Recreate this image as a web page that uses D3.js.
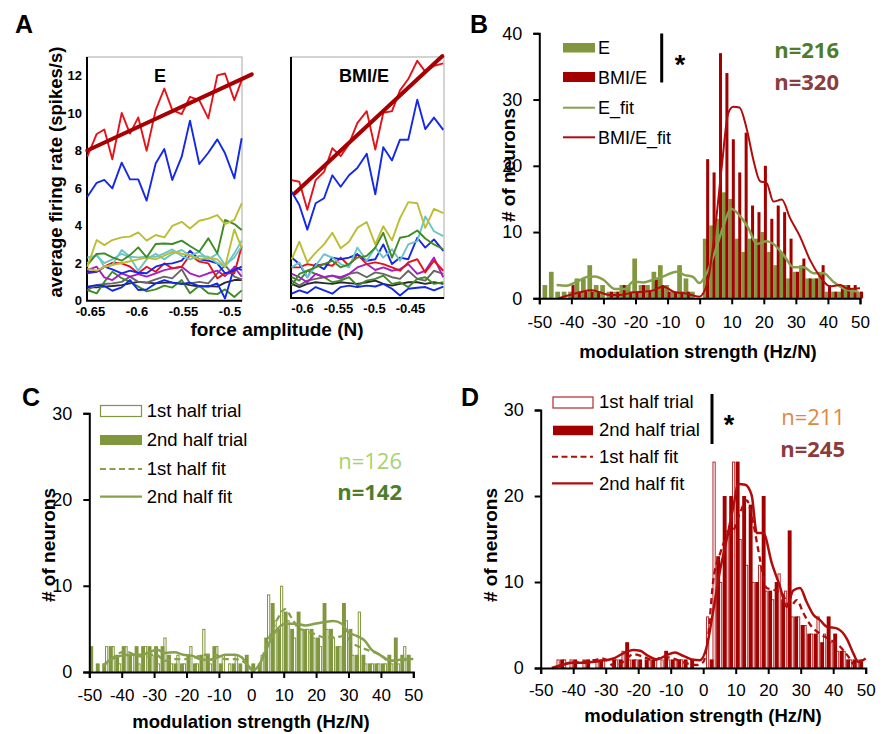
<!DOCTYPE html>
<html><head><meta charset="utf-8">
<script src="https://cdn.jsdelivr.net/npm/d3@7"></script>
<style>body{margin:0;background:#fff}svg{display:block}</style>
</head><body>
<script>
// ---------------- DATA ----------------
// Panel A : force amplitude (N) sample points
const forceE   = [-0.6529,-0.6428,-0.6346,-0.6260,-0.6159,-0.6070,-0.5981,-0.5891,-0.5794,-0.5701,-0.5615,-0.5514,-0.5425,-0.5325,-0.5228,-0.5131,-0.5048,-0.4948,-0.4869];
const forceBMI = [-0.6143,-0.6037,-0.5926,-0.5810,-0.5694,-0.5579,-0.5463,-0.5347,-0.5232,-0.5101,-0.4982,-0.4871,-0.4750,-0.4639,-0.4524,-0.4399,-0.4288,-0.4167,-0.4038];
// Panel A, E : firing rates (spikes/s)
const E_black  = [0.71,0.71,0.75,0.78,0.83,0.92,1.0,0.96,0.92,0.96,0.96,0.92,0.83,0.75,0.78,0.75,0.96,1.1,1.1];
const E_gray   = [0.57,0.83,0.89,0.92,1.0,1.28,1.0,0.96,1.14,1.28,1.19,1.67,0.92,1.0,0.92,1.46,1.9,1.28,1.14];
const E_green2 = [0.57,0.39,1.0,1.54,1.2,1.0,0.75,0.5,0.6,0.8,0.7,1.1,0.4,0.8,0.4,0.35,0.6,0.2,0.55];
const E_blue3  = [0.75,0.83,0.78,0.53,0.71,1.1,0.57,0.6,0.92,1.1,0.96,0.89,0.96,0.78,0.75,0.92,0.12,1.81,1.63];
const E_purple = [1.63,1.81,1.24,1.1,1.46,1.28,1.42,1.28,1.46,1.63,1.72,1.81,1.46,1.28,1.46,1.6,1.31,1.78,1.28];
const E_red2   = [1.46,1.54,1.81,2.02,1.99,1.81,1.46,1.81,1.54,1.99,1.72,1.81,2.43,2.08,1.99,1.19,1.46,1.46,2.88];
const E_blue2  = [1.54,1.54,1.81,1.67,1.46,1.6,1.49,1.46,1.81,1.95,1.99,2.13,2.66,2.2,2.13,1.99,1.46,1.63,1.81];
const E_cyan2  = [2.3,2.4,2.0,2.2,2.5,2.3,1.6,2.2,2.5,2.2,2.5,2.7,2.4,2.6,2.2,2.5,1.9,2.3,2.9];
const E_cyan1  = [2.0,2.49,1.81,1.9,2.7,2.34,2.31,2.34,2.34,2.52,2.73,2.38,2.2,2.38,2.34,2.0,1.81,2.52,3.2];
const E_olive2 = [1.7,1.6,1.8,1.9,2.0,2.1,2.2,2.3,2.2,2.4,2.6,2.5,2.4,2.2,2.3,2.2,1.8,3.8,2.8];
const E_green1 = [1.9,2.49,2.52,2.31,2.13,2.43,2.84,2.31,3.02,3.05,3.02,3.2,2.91,2.61,3.32,2.52,4.3,4.08,3.76];
const E_olive1 = [1.81,3.23,2.96,3.23,3.37,3.41,3.64,3.2,3.5,3.37,3.98,4.2,3.85,4.26,4.37,4.56,4.08,4.3,5.18];
const E_blue   = [5.54,6.28,6.43,5.98,7.35,6.46,6.46,5.33,7.31,8.08,6.43,7.67,9.59,7.28,7.88,8.59,7.85,6.52,8.65];
const E_red    = [7.67,8.88,9.12,7.53,10.0,8.9,9.76,7.99,10.15,11.3,10.15,9.94,10.86,10.68,9.71,12.0,12.1,10.68,11.75];
const E_fitX   = [-0.653,-0.476];
const E_fitY   = [8.0,12.05];
// Panel A, BMI/E
const M_black  = [0.76,0.59,0.76,0.85,0.80,0.76,0.85,0.80,0.76,0.85,0.94,0.76,0.67,0.76,0.85,0.85,0.76,0.85,0.76];
const M_gray   = [0.94,0.67,0.94,1.03,1.12,1.21,1.03,1.30,1.38,1.12,1.38,1.30,1.12,1.03,1.47,1.03,0.94,1.47,1.30];
const M_green2 = [1.12,0.94,1.47,1.30,1.12,0.85,0.94,1.12,0.67,0.94,1.03,1.21,0.76,0.85,0.59,1.03,1.12,0.76,0.85];
const M_blue3  = [0.23,0.41,0.27,0.59,0.41,0.23,0.59,0.67,0.59,0.67,0.62,0.76,0.50,0.14,0.50,0.55,0.59,0.41,0.62];
const M_purple = [1.30,1.12,0.85,1.30,1.12,1.21,1.12,1.30,1.65,1.83,1.51,1.65,1.47,1.56,1.83,1.30,1.47,2.18,1.12];
const M_red2   = [1.65,1.65,1.83,1.74,1.83,1.74,2.18,1.74,2.36,1.83,1.92,1.83,1.65,1.47,1.92,2.09,1.38,2.01,1.47];
const M_blue2  = [2.18,1.83,1.12,1.83,1.56,2.18,2.09,2.18,2.36,2.01,2.09,2.89,1.83,2.18,2.09,3.25,2.72,3.16,2.54];
const M_cyan   = [1.65,1.92,1.12,1.74,2.36,2.18,1.83,1.65,2.72,2.01,2.72,2.18,2.63,2.01,2.89,3.07,4.40,3.60,3.34];
const M_green  = [0.67,1.30,1.47,1.65,1.83,2.01,1.65,1.83,2.18,2.27,2.72,3.52,2.18,3.25,3.34,3.64,3.21,2.89,2.63];
const M_olive  = [2.09,3.04,1.92,2.45,2.89,3.52,2.68,3.04,3.78,4.1,2.89,3.87,3.11,4.31,5.17,5.11,3.78,4.81,4.58];
const M_blue   = [5.73,5.02,3.69,5.11,5.38,6.62,6.0,6.62,7.01,7.78,5.59,8.13,7.42,8.54,8.54,10.7,9.11,9.73,9.07];
const M_red    = [6.36,6.27,4.76,6.36,6.8,8.08,7.65,8.31,9.43,10.08,8.01,9.99,10.08,11.2,11.81,12.8,12.21,12.52,12.66];
const M_fitX   = [-0.61,-0.405];
const M_fitY   = [5.65,13.05];
const rateTicks = [0,2,4,6,8,10,12];
const forceTicksE = [-0.65,-0.6,-0.55,-0.5];
const forceLabelsE = ["-0.65","-0.6","-0.55","-0.5"];
const forceTicksM = [-0.6,-0.55,-0.5,-0.45];
const forceLabelsM = ["-0.6","-0.55","-0.5","-0.45"];

// Panel B : histogram categories (Hz/N) and counts
const binsB = [-48,-46,-44,-42,-40,-38,-36,-34,-32,-30,-28,-26,-24,-22,-20,-18,-16,-14,-12,-10,-8,-6,-4,-2,0,2,4,6,8,10,12,14,16,18,20,22,24,26,28,30,32,34,36,38,40,42,44,46,48,50];
const countE   = [2,4,1,1,1,3,3,5,2,2,1,1,2,2,6,2,2,4,5,2,1,5,3,1,0, 9,11,12,16,15,9,7,9,9,10,7,5,7,3,4,5,3,3,4,1,1,1,2,1,1];
const countBMI = [0,0,0,0,2,1,1,1,1,0,1,1,2,1,1,2,1,3,2,1,1,1,1,0,0, 21,19,37,34,24,19,25,14,13,20,12,14,13,9,4,6,3,3,5,2,1,2,2,2,1];
const fitE_x = [-44.6,-41.5,-38.3,-35.2,-32.6,-30.0,-26.4,-23.3,-20.7,-17.6,-14.5,-11.3,-7.2,-4.6,-2.0,-0.1,2.2,5.3,7.4,9.8,12.6,15.2,17.8,20.9,23.0,26.1,29.2,32.4,35.5,38.6,41.7,44.8,49.5];
const fitE_y = [2.0,1.9,2.5,3.2,3.3,2.8,1.4,1.4,2.5,2.4,2.8,3.3,4.0,3.5,3.2,2.3,3.8,7.8,10.9,13.5,12.4,10.6,8.2,8.6,8.2,6.6,4.7,4.7,3.8,3.8,2.5,1.5,1.0];
const fitBMI_x = [-44.0,-40.4,-37.3,-33.7,-31.1,-28.0,-24.8,-20.7,-17.6,-14.4,-11.3,-8.2,-4.0,-0.1,2.4,4.8,6.9,8.9,10.5,12.4,14.7,16.7,18.8,20.9,23.0,25.6,28.2,31.3,34.4,37.5,40.6,43.8,46.4,50.0];
const fitBMI_y = [0,0.5,0.9,1.2,0.9,0.5,0.5,0.9,1.0,1.2,1.8,1.0,0.7,0.25,2.3,10.4,19.9,27.9,28.9,28.8,25.5,21.0,17.7,17.4,14.6,14.9,12.1,9.3,5.8,3.3,1.8,2.0,1.4,1.5];
const modTicks = [-50,-40,-30,-20,-10,0,10,20,30,40,50];
const countTicksB = [0,10,20,30,40];
const countTicksCD = [0,10,20,30];

// Panels C and D : categories and counts (1st / 2nd half of trials)
const binsCD = [-50,-48,-46,-44,-42,-40,-38,-36,-34,-32,-30,-28,-26,-24,-22,-20,-18,-16,-14,-12,-10,-8,-6,-4,-2,0,2,4,6,8,10,12,14,16,18,20,22,24,26,28,30,32,34,36,38,40,42,44,46,48];
const C_first  = [0,0,0,3,3,1,3,2,1,3,2,1,4,1,2,1,3,1,5,1,3,2,1,2,0, 0,0,2,9,6,10,6,4,5,5,4,3,5,4,3,6,2,7,1,1,1,1,1,1,3];
const C_second = [3,1,1,3,2,3,2,3,3,3,3,3,2,1,1,2,1,2,2,3,1,0,1,1,2, 1,1,4,8,5,7,5,7,5,5,4,8,5,3,8,5,2,2,1,1,1,2,4,2,2];
const C_fit1_x = [-45.7,-42.6,-39.0,-35.9,-32.8,-29.7,-26.6,-23.6,-20.5,-17.4,-14.3,-11.2,-8.1,-5.0,-2.0,0.1,2.2,4.2,6.3,8.3,10.4,12.4,14.5,16.6,19.6,22.7,25.8,28.9,31.0,34.1,37.1,40.2,42.3,45.4,48.5];
const C_fit1_y = [0.7,1.7,2.4,2.0,1.7,2.1,1.3,1.5,1.5,1.7,2.0,2.0,1.5,1.5,1.1,0.3,0.5,2.6,4.7,6.3,7.3,6.3,5.1,4.8,4.4,4.0,4.0,4.2,3.4,2.8,2.4,1.9,1.3,1.3,1.5];
const C_fit2_x = [-45.7,-43.1,-40.0,-36.9,-33.8,-30.8,-29.2,-26.6,-23.6,-21.0,-18.4,-15.8,-13.3,-10.2,-8.1,-5.0,-3.0,-0.9,0.6,2.2,4.2,6.3,8.3,10.4,13.5,16.6,19.6,22.7,25.3,27.9,29.9,32.5,35.1,37.1,39.2,41.8,44.3,46.9,50.0];
const C_fit2_y = [0.8,1.5,1.9,2.0,2.0,2.4,2.6,2.2,2.3,2.0,1.9,1.5,1.4,1.7,2.0,2.0,1.7,0.7,0.2,0.7,2.2,4.0,5.1,5.6,5.6,5.4,5.6,5.8,5.9,5.6,4.6,4.2,3.6,2.6,2.1,1.5,1.3,1.5,1.5];
const D_first  = [0,0,0,1,1,1,0,1,0,1,1,0,1,2,1,1,0,1,1,1,1,1,1,0,0, 0,6,24,10,16,24,15,12,10,12,9,8,11,9,6,6,5,4,6,4,3,2,2,1,1];
const D_second = [0,0,0,1,0,1,0,1,0,1,0,1,1,3,1,1,1,1,0,2,1,1,1,1,0, 0,1,13,20,20,24,20,19,10,20,9,10,8,16,6,5,4,4,3,6,4,2,1,1,1];
const D_fit1_x = [-46.1,-42.0,-37.9,-33.8,-30.7,-27.1,-24.1,-21.5,-18.4,-15.3,-12.3,-9.2,-5.6,-2.0,0.05,1.6,3.1,5.2,7.2,9.3,11.3,13.4,15.4,17.5,19.5,21.6,24.2,26.7,28.8,30.8,33.4,35.9,39.0,42.1,44.7,46.7,48.8];
const D_fit1_y = [0,0.5,0.7,0.9,1.1,0.15,0.9,1.6,1.3,0.9,1.3,1.1,0.6,0.35,0.7,4.0,10.2,13.3,15.3,16.0,18.0,19.5,16.8,12.6,9.3,9.1,8.7,7.1,7.9,6.4,4.8,4.0,3.3,2.5,1.3,0.35,0.9];
const D_fit2_x = [-46.6,-43.5,-40.5,-37.4,-34.3,-31.2,-27.6,-24.6,-21.5,-19.4,-16.9,-14.3,-11.2,-8.7,-6.1,-3.5,-1.0,1.1,3.1,5.2,7.2,9.3,10.8,12.9,14.9,16.5,18.5,21.1,23.6,25.7,27.7,29.8,31.8,33.9,35.9,38.0,41.1,44.2,46.2,47.7,50.0];
const D_fit2_y = [0,0.35,0.6,0.6,0.7,0.85,1.1,1.7,2.1,2.0,1.4,1.0,1.5,1.8,1.4,1.0,0.9,2.5,6.7,11.4,14.9,18.8,21.4,21.3,20.1,15.7,15.7,12.2,9.5,7.1,9.0,9.3,7.7,6.2,5.6,4.8,4.6,3.4,1.7,0.7,1.1];

// ---------------- STYLES ----------------
const FONT = '"Liberation Sans", Arial, sans-serif';
const FONT2 = '"Open Sans", "Liberation Sans", sans-serif';
const col = {
  red:"#e5121a", blue:"#1328e8", olive:"#bcbd33", green:"#3f8b24", cyan:"#6cc5c5",
  purple:"#a51ec6", gray:"#666666", black:"#2a2a2a", fit:"#a80000",
  barG:"#80973d", barR:"#a30000", fitG:"#86a04c", fitR:"#b00c0c",
  openR:"#b52a2a"
};

const svg = d3.select("body").append("svg").attr("width",886).attr("height",734)
  .style("font-family",FONT);

function label(x,y,str,o={}){
  let tr = `translate(${x},${y})`;
  if(o.rot) tr += ` rotate(${o.rot})`;
  if(o.sx) tr += ` scale(${o.sx},1)`;
  const t = svg.append("text").attr("transform",tr)
    .attr("text-anchor",o.anchor||"start")
    .attr("font-size",o.size||16)
    .attr("font-weight",o.weight||"normal")
    .attr("fill",o.fill||"#000")
    .text(str);
  if(o.family) t.attr("font-family",o.family);
  if(o.dy) t.attr("dy",o.dy);
  return t;
}

// ---------------- PANEL A ----------------
const xE = d3.scaleLinear().domain([-0.65,-0.5]).range([90,229.5]);
const yE = d3.scaleLinear().domain([0,13]).range([300.7,56.6]);
const xM = d3.scaleLinear().domain([-0.6,-0.45]).range([302,410]);
const yM = d3.scaleLinear().domain([0,13]).range([298,57]);

function frame(x0,x1,y0,y1){
  svg.append("rect").attr("x",x0).attr("y",y0).attr("width",x1-x0).attr("height",y1-y0)
    .attr("fill","none").attr("stroke","#a8a8a8").attr("stroke-width",1);
  svg.append("path").attr("d",`M${x0},${y0}V${y1}H${x1}`).attr("fill","none")
    .attr("stroke","#000").attr("stroke-width",2);
}
frame(87,242,57,300.7);
frame(291,444,57,298);

const linesE = [
  [E_black,col.black],[E_gray,col.gray],[E_green2,col.green],[E_blue3,col.blue],
  [E_purple,col.purple],[E_red2,col.red],[E_blue2,col.blue],[E_cyan2,col.cyan],
  [E_cyan1,col.cyan],[E_olive2,col.olive],[E_green1,col.green],[E_olive1,col.olive],
  [E_blue,col.blue],[E_red,col.red]];
const linesM = [
  [M_black,col.black],[M_gray,col.gray],[M_green2,col.green],[M_blue3,col.blue],
  [M_purple,col.purple],[M_red2,col.red],[M_blue2,col.blue],[M_cyan,col.cyan],
  [M_green,col.green],[M_olive,col.olive],[M_blue,col.blue],[M_red,col.red]];

function drawLines(lines, xs, xScale, yScale){
  const gen = d3.line().x((d,i)=>xScale(xs[i])).y(d=>yScale(d));
  lines.forEach(([vals,c])=>{
    svg.append("path").attr("d",gen(vals)).attr("fill","none")
      .attr("stroke",c).attr("stroke-width",1.9).attr("stroke-linejoin","round");
  });
}
drawLines(linesE, forceE, xE, yE);
drawLines(linesM, forceBMI, xM, yM);
function fitLine(xs,ys,xScale,yScale){
  const gen = d3.line().x((d,i)=>xScale(xs[i])).y(d=>yScale(d));
  svg.append("path").attr("d",gen(ys)).attr("stroke",col.fit).attr("stroke-width",4)
    .attr("fill","none").attr("stroke-linecap","round");
}
fitLine(E_fitX,E_fitY,xE,yE);
fitLine(M_fitX,M_fitY,xM,yM);

// axes A
function styleAxis(g,size,weight){
  g.select(".domain").remove();
  g.selectAll("text").attr("font-size",size).attr("font-weight",weight).attr("font-family",FONT).attr("fill","#000");
}
svg.append("g").attr("transform","translate(87,0)")
  .call(d3.axisLeft(yE).tickValues(rateTicks).tickSize(0).tickPadding(5))
  .call(g=>styleAxis(g,13,"bold"));
svg.append("g").attr("transform","translate(0,300.7)")
  .call(d3.axisBottom(xE).tickValues(forceTicksE).tickFormat((d,i)=>forceLabelsE[i]).tickSize(0).tickPadding(6))
  .call(g=>styleAxis(g,13,"bold"));
svg.append("g").attr("transform","translate(0,298)")
  .call(d3.axisBottom(xM).tickValues(forceTicksM).tickFormat((d,i)=>forceLabelsM[i]).tickSize(0).tickPadding(6))
  .call(g=>styleAxis(g,13,"bold"));

label(160,82,"E",{anchor:"middle",size:18,weight:"bold"});
label(364,82,"BMI/E",{anchor:"middle",size:18,weight:"bold"});
label(56,172,"average firing rate (spikes/s)",{anchor:"middle",size:18.5,weight:"bold",rot:-90,dy:"0.35em"});
label(277,336,"force amplitude (N)",{anchor:"middle",size:19,weight:"bold"});

// ---------------- HISTOGRAM HELPERS ----------------
function histAxes(x,y,yTicks,xPad,titleX,titleY,yTitleX,yTitleY){
  const [x0] = x.range(), [y0] = y.range();
  svg.append("g").attr("transform",`translate(${x0},0)`)
    .call(d3.axisLeft(y).tickValues(yTicks).tickSize(6).tickPadding(11))
    .call(g=>{g.selectAll("path,line").attr("stroke","#000").attr("stroke-width",2);
      g.selectAll("text").attr("font-size",18).attr("font-family",FONT).attr("fill","#000");});
  svg.append("g").attr("transform",`translate(0,${y0})`)
    .call(d3.axisBottom(x).tickValues(modTicks).tickSize(6).tickPadding(xPad))
    .call(g=>{g.selectAll("path,line").attr("stroke","#000").attr("stroke-width",2);
      g.selectAll("text").attr("font-size",17).attr("font-family",FONT).attr("fill","#000")
        .text(d=>String(d));});
  label(titleX,titleY,"modulation strength (Hz/N)",{anchor:"middle",size:18.5,weight:"bold"});
  label(yTitleX,yTitleY,"# of neurons",{anchor:"middle",size:19,weight:"bold",rot:-90,dy:"0.35em"});
}
function smooth(xs,ys,x,y,color,width,dash){
  const gen = d3.line().x((d,i)=>x(xs[i])).y(d=>y(d)).curve(d3.curveMonotoneX);
  const p = svg.append("path").attr("d",gen(ys)).attr("fill","none")
    .attr("stroke",color).attr("stroke-width",width).attr("stroke-linejoin","round");
  if(dash) p.attr("stroke-dasharray",dash);
}

// ---------------- PANEL B ----------------
const xB = d3.scaleLinear().domain([-50,50]).range([539.3,860]);
const yB = d3.scaleLinear().domain([0,40]).range([298.3,33.3]);
svg.append("g").selectAll("rect.g").data(countE).join("rect")
  .attr("x",(d,i)=>xB(binsB[i]-1.0)).attr("width",xB(0.47)-xB(-1.0))
  .attr("y",d=>yB(d)).attr("height",d=>yB(0)-yB(d)).attr("fill",col.barG);
svg.append("g").selectAll("rect.r").data(countBMI).join("rect")
  .attr("x",(d,i)=>xB(binsB[i]+0.03)).attr("width",xB(0.97)-xB(0.03))
  .attr("y",d=>yB(d)).attr("height",d=>yB(0)-yB(d)).attr("fill",col.barR);
smooth(fitE_x,fitE_y,xB,yB,col.fitG,2.5);
smooth(fitBMI_x,fitBMI_y,xB,yB,col.fitR,2);
histAxes(xB,yB,countTicksB,12,698,358,508,165);

// legend B
svg.append("rect").attr("x",563).attr("y",43).attr("width",32).attr("height",9.5).attr("fill",col.barG);
svg.append("rect").attr("x",563).attr("y",72).attr("width",32).attr("height",10).attr("fill",col.barR);
svg.append("line").attr("x1",563).attr("x2",595).attr("y1",107.7).attr("y2",107.7).attr("stroke",col.fitG).attr("stroke-width",2);
svg.append("line").attr("x1",563).attr("x2",595).attr("y1",137.3).attr("y2",137.3).attr("stroke",col.fitR).attr("stroke-width",2);
label(598,54,"E",{size:18});
label(598,84,"BMI/E",{size:18});
label(598,114,"E_fit",{size:18});
label(598,144,"BMI/E_fit",{size:18});
svg.append("line").attr("x1",661.7).attr("x2",661.7).attr("y1",33.5).attr("y2",82.5).attr("stroke","#000").attr("stroke-width",3);
label(680,74,"*",{anchor:"middle",size:27,weight:"bold"});
label(839,58,"n=216",{anchor:"end",size:22,weight:"bold",fill:"#4e7d2a",family:FONT2});
label(839,90,"n=320",{anchor:"end",size:22,weight:"bold",fill:"#8c3c3c",family:FONT2});

// ---------------- PANEL C ----------------
const xC = d3.scaleLinear().domain([-50,50]).range([89.3,413.3]);
const yC = d3.scaleLinear().domain([0,30]).range([672,413.3]);
svg.append("g").selectAll("rect").data(C_first).join("rect")
  .attr("x",(d,i)=>xC(binsCD[i]-1.15)+0.5).attr("width",xC(1)-xC(0)-1)
  .attr("y",d=>yC(d)+0.5).attr("height",d=>Math.max(0,yC(0)-yC(d)-0.5))
  .attr("fill","#fff").attr("stroke",col.barG).attr("stroke-width",1)
  .attr("visibility",d=>d>0?"visible":"hidden");
svg.append("g").selectAll("rect").data(C_second).join("rect")
  .attr("x",(d,i)=>xC(binsCD[i])).attr("width",xC(1.2)-xC(0))
  .attr("y",d=>yC(d)).attr("height",d=>yC(0)-yC(d)).attr("fill",col.barG);
smooth(C_fit1_x,C_fit1_y,xC,yC,col.fitG,2.3,"6,4");
smooth(C_fit2_x,C_fit2_y,xC,yC,col.fitG,2.5);
histAxes(xC,yC,countTicksCD,11,251,728,48,545);

svg.append("rect").attr("x",100.5).attr("y",405.5).attr("width",41).attr("height",11)
  .attr("fill","#fff").attr("stroke",col.barG).attr("stroke-width",1.2);
svg.append("rect").attr("x",100).attr("y",435).attr("width",42).attr("height",10).attr("fill",col.barG);
svg.append("line").attr("x1",100).attr("x2",142).attr("y1",469).attr("y2",469).attr("stroke",col.fitG).attr("stroke-width",2).attr("stroke-dasharray","6,3.5");
svg.append("line").attr("x1",100).attr("x2",142).attr("y1",496.7).attr("y2",496.7).attr("stroke",col.fitG).attr("stroke-width",2.2);
label(146.7,417,"1st half trial",{size:18.5});
label(146.7,446,"2nd half trial",{size:18.5});
label(146.7,475,"1st half fit",{size:18.5});
label(146.7,503,"2nd half fit",{size:18.5});
label(402,469,"n=126",{anchor:"end",size:22,fill:"#a8d26c",family:FONT2});
label(402,500,"n=142",{anchor:"end",size:22,weight:"bold",fill:"#4e7d2a",family:FONT2});

// ---------------- PANEL D ----------------
const xD = d3.scaleLinear().domain([-50,50]).range([540.7,865.7]);
const yD = d3.scaleLinear().domain([0,30]).range([668,410]);
svg.append("g").selectAll("rect").data(D_first).join("rect")
  .attr("x",(d,i)=>xD(binsCD[i]-1.15)+0.5).attr("width",xD(1)-xD(0)-1)
  .attr("y",d=>yD(d)+0.5).attr("height",d=>Math.max(0,yD(0)-yD(d)-0.5))
  .attr("fill","#fff").attr("stroke",col.openR).attr("stroke-width",1)
  .attr("visibility",d=>d>0?"visible":"hidden");
svg.append("g").selectAll("rect").data(D_second).join("rect")
  .attr("x",(d,i)=>xD(binsCD[i])).attr("width",xD(1.2)-xD(0))
  .attr("y",d=>yD(d)).attr("height",d=>yD(0)-yD(d)).attr("fill",col.barR);
smooth(D_fit1_x,D_fit1_y,xD,yD,col.fitR,2.3,"6,4");
smooth(D_fit2_x,D_fit2_y,xD,yD,col.fitR,2.5);
histAxes(xD,yD,countTicksCD,10,703,722,490,545);

svg.append("rect").attr("x",553).attr("y",397).attr("width",40).attr("height",11)
  .attr("fill","#fff").attr("stroke",col.openR).attr("stroke-width",1.2);
svg.append("rect").attr("x",553).attr("y",425.7).attr("width",40).attr("height",9.5).attr("fill",col.barR);
svg.append("line").attr("x1",552).attr("x2",593).attr("y1",456.7).attr("y2",456.7).attr("stroke",col.fitR).attr("stroke-width",2).attr("stroke-dasharray","6,3.5");
svg.append("line").attr("x1",552).attr("x2",593).attr("y1",483.3).attr("y2",483.3).attr("stroke",col.fitR).attr("stroke-width",2.2);
label(599,408,"1st half trial",{size:18.5});
label(599,436,"2nd half trial",{size:18.5});
label(599,463,"1st half fit",{size:18.5});
label(599,490,"2nd half fit",{size:18.5});
svg.append("line").attr("x1",712).attr("x2",712).attr("y1",394).attr("y2",444).attr("stroke","#000").attr("stroke-width",3);
label(729,434,"*",{anchor:"middle",size:27,weight:"bold"});
label(845,425,"n=211",{anchor:"end",size:22,fill:"#e0883c",family:FONT2});
label(845,457,"n=245",{anchor:"end",size:22,weight:"bold",fill:"#8c3c3c",family:FONT2});

// ---------------- PANEL LETTERS ----------------
label(24,33,"A",{anchor:"middle",size:25,weight:"bold"});
label(479,33,"B",{anchor:"middle",size:25,weight:"bold"});
label(31,406,"C",{anchor:"middle",size:25,weight:"bold"});
label(470,406,"D",{anchor:"middle",size:25,weight:"bold"});
</script></body></html>
